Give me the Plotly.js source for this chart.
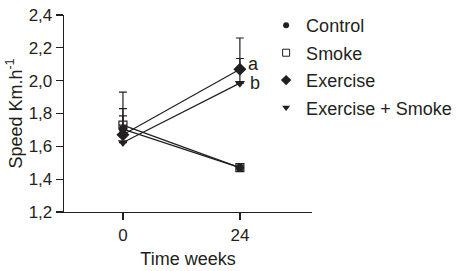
<!DOCTYPE html>
<html>
<head>
<meta charset="utf-8">
<script src="https://cdn.plot.ly/plotly-3.0.1.min.js"></script>
<style>html,body{margin:0;padding:0;background:#fff;}#chart{width:459px;height:271px;}</style>
</head>
<body>
<div id="chart"></div>
<script>
// Data
var weeks = [0, 24];
var xTickLabels = ["0", "24"];
var seriesNames = ["Control", "Smoke", "Exercise", "Exercise + Smoke"];
var control = [1.705, 1.47];
var smoke = [1.729, 1.47];
var exercise = [1.67, 2.07];
var exerciseSmoke = [1.623, 1.985];
var controlErr = [0.125, 0];
var smokeErr = [0.057, 0];
var exerciseErr = [0.26, 0.19];
var exerciseSmokeErr = [0, 0.15];
var yTicks = [1.2, 1.4, 1.6, 1.8, 2.0, 2.2, 2.4];
var yTickLabels = ["1,2", "1,4", "1,6", "1,8", "2,0", "2,2", "2,4"];
var sigLabels = ["a", "b"];

var ink = "#231f20";
var font = "Liberation Sans, Arial, Helvetica, sans-serif";

var series = [
  {name: seriesNames[0], y: control, err: controlErr, symbol: "circle", size: 8, lsize: 6},
  {name: seriesNames[1], y: smoke, err: smokeErr, symbol: "square-open", size: 8, lsize: 7},
  {name: seriesNames[2], y: exercise, err: exerciseErr, symbol: "diamond", size: 10, lsize: 8},
  {name: seriesNames[3], y: exerciseSmoke, err: exerciseSmokeErr, symbol: "triangle-down", size: 9, lsize: 7}
];

var traces = [];
series.forEach(function(s) {
  traces.push({
    x: weeks, y: s.y, type: "scatter", mode: "lines",
    line: {color: ink, width: 1.2}, showlegend: false, hoverinfo: "skip"
  });
});
// markers with error bars (smoke squares drawn under control circles)
[1, 0, 2, 3].forEach(function(i) {
  var s = series[i];
  traces.push({
    x: weeks, y: s.y, type: "scatter", mode: "markers", name: s.name, showlegend: false,
    marker: {symbol: s.symbol, size: s.size, color: ink,
             line: {color: ink, width: s.symbol === "square-open" ? 1.2 : 0}},
    error_y: {type: "data", symmetric: false, array: s.err, arrayminus: [0, 0],
              color: ink, thickness: 1.2, width: 4},
    cliponaxis: false
  });
});
// legend entries (smaller markers, as in the reference legend)
series.forEach(function(s, i) {
  traces.push({
    x: [null], y: [null], type: "scatter", mode: "markers", name: s.name,
    legendgroup: "g" + i, legendrank: i + 1, showlegend: true,
    marker: {symbol: s.symbol, size: s.lsize, color: ink,
             line: {color: ink, width: s.symbol === "square-open" ? 1 : 0}}
  });
});

var layout = {
  width: 459, height: 271,
  margin: {l: 64, r: 147, t: 15, b: 59, autoexpand: false},
  paper_bgcolor: "#fff", plot_bgcolor: "#fff",
  font: {family: font, color: ink, size: 16},
  showlegend: true,
  legend: {x: 0.815, y: 1.04, xanchor: "left", yanchor: "top",
           font: {family: font, size: 18, color: ink},
           traceorder: "grouped", tracegroupgap: 1, itemwidth: 30,
           bgcolor: "rgba(0,0,0,0)"},
  xaxis: {
    range: [-12.1, 38.8], tickvals: weeks, ticktext: xTickLabels,
    showgrid: false, zeroline: false, showline: true, linecolor: ink, linewidth: 1.3,
    ticks: "outside", ticklen: 7, tickwidth: 1.3, tickcolor: ink,
    tickfont: {size: 17},
    title: {text: "Time weeks", font: {size: 18}, standoff: 8}
  },
  yaxis: {
    range: [1.2, 2.4], tickvals: yTicks, ticktext: yTickLabels,
    showgrid: false, zeroline: false, showline: true, linecolor: ink, linewidth: 1.3,
    ticks: "outside", ticklen: 7, tickwidth: 1.3, tickcolor: ink,
    tickfont: {size: 17},
    title: {text: "Speed Km.h<sup>-1</sup>", font: {size: 18}, standoff: 1}
  },
  annotations: [
    {x: weeks[1], y: 2.1, xref: "x", yref: "y", text: sigLabels[0], showarrow: false,
     xanchor: "left", xshift: 6, font: {size: 18, color: ink}},
    {x: weeks[1], y: exerciseSmoke[1], xref: "x", yref: "y", text: sigLabels[1], showarrow: false,
     xanchor: "left", xshift: 8, font: {size: 18, color: ink}}
  ]
};

Plotly.newPlot("chart", traces, layout, {displayModeBar: false, staticPlot: true});
</script>
</body>
</html>
